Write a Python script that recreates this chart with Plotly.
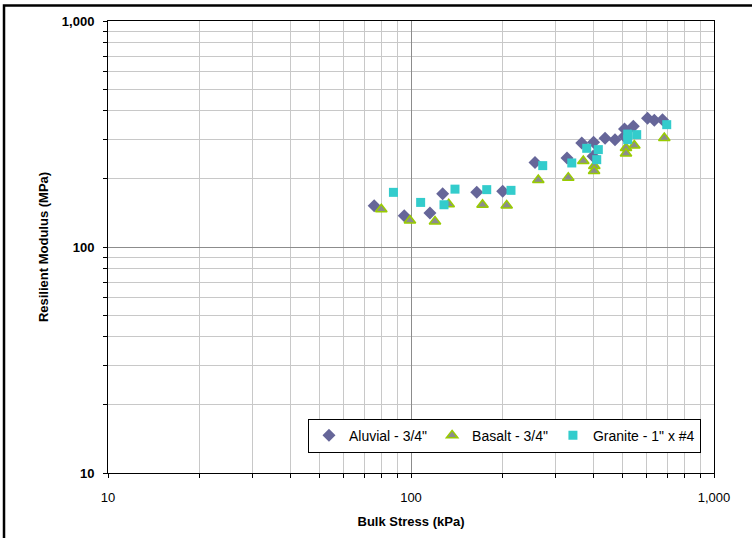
import plotly.graph_objects as go

# ---- data ----
aluvial_x = [75.6, 95.0, 115.5, 127.2, 164.8, 200.7, 256.6, 327.3, 366, 400.4, 398.9,
             436.9, 471.3, 506.5, 505.7, 541.6, 603.3, 635.3, 676.1]
aluvial_y = [152.3, 137.5, 141.4, 172.2, 174.5, 176.3, 236.8, 247.7, 288.6, 290.4, 252.3,
             303.1, 298.5, 332.4, 308.8, 342, 371.7, 364.2, 366]

basalt_x = [79.8, 99.2, 120.0, 133.2, 172.2, 206.9, 263.1, 330.4, 370.4, 402.7, 402.0,
            512.3, 512.3, 545.8, 685.5]
basalt_y = [147, 131.1, 129.8, 154.6, 153.8, 152.8, 198, 202.7, 240.3, 228.4, 217,
            274.4, 259.4, 281.4, 303.8]

granite_x = [87.5, 107.6, 128.5, 139.7, 177.8, 213.8, 272.1, 339.3, 380.1, 415.2, 410.2,
             519, 519, 555.8, 698.2]
granite_y = [174.5, 157.5, 153.8, 180.3, 179.4, 178.1, 229.1, 235.4, 273.3, 269.7, 243.5,
             315.8, 298.5, 314.2, 347.8]

series_names = ['Aluvial - 3/4"', 'Basalt - 3/4"', 'Granite - 1" x #4']

major_ticks_x = [10, 100, 1000]
major_text_x = ["10", "100", "1,000"]
major_ticks_y = [10, 100, 1000]
major_text_y = ["<b>10</b>", "<b>100</b>", "<b>1,000</b>"]
minor_vals = [m * d for d in (10, 100) for m in range(2, 10)]

x_title = "Bulk Stress (kPa)"
y_title = "Resilient Modulus (MPa)"

FONT = "Liberation Sans, Arial, sans-serif"

fig = go.Figure()
fig.add_trace(go.Scatter(
    x=aluvial_x, y=aluvial_y, mode="markers", name=series_names[0],
    marker=dict(symbol="diamond", size=10, color="#666699", line=dict(width=0))))
fig.add_trace(go.Scatter(
    x=basalt_x, y=basalt_y, mode="markers", name=series_names[1],
    marker=dict(symbol="triangle-up", size=10, color="#8c8c8c",
                line=dict(width=1.5, color="#99CC00"))))
fig.add_trace(go.Scatter(
    x=granite_x, y=granite_y, mode="markers", name=series_names[2],
    marker=dict(symbol="square", size=9, color="#33CCCC", line=dict(width=0))))

axis_common = dict(
    type="log",
    showline=True, linecolor="black", linewidth=1, mirror=True,
    showgrid=True, gridcolor="#8c8c8c", gridwidth=1,
    ticks="outside", ticklen=4, tickcolor="black",
    zeroline=False,
    minor=dict(tickvals=minor_vals, showgrid=True, gridcolor="#c8c8c8",
               gridwidth=1, ticks="outside", ticklen=4, tickcolor="black"),
)

fig.update_xaxes(
    **axis_common,
    range=[1, 3],
    tickvals=major_ticks_x, ticktext=major_text_x,
    tickfont=dict(family=FONT, size=13, color="black"),
    ticklabelstandoff=8,
    title=dict(text="<b>" + x_title + "</b>", font=dict(family=FONT, size=13, color="black"),
               standoff=13),
)
fig.update_yaxes(
    **axis_common,
    range=[1, 3],
    tickvals=major_ticks_y, ticktext=major_text_y,
    tickfont=dict(family=FONT, size=13, color="black"),
    ticklabelstandoff=6,
    title=dict(text="<b>" + y_title + "</b>", font=dict(family=FONT, size=13, color="black"),
               standoff=10),
)

fig.update_layout(
    width=752, height=538,
    margin=dict(l=108, r=38, t=21, b=65),
    paper_bgcolor="white", plot_bgcolor="white",
    font=dict(family=FONT, size=13, color="black"),
    showlegend=True,
    legend=dict(
        orientation="h", x=0.9785, y=0.12, xanchor="right", yanchor="top",
        bgcolor="white", bordercolor="black", borderwidth=1,
        font=dict(family=FONT, size=14, color="black"),
        itemwidth=30, tracegroupgap=0,
    ),
    shapes=[dict(type="rect", xref="paper", yref="paper",
                 x0=-0.1716, x1=1.2, y0=-0.3, y1=1.0343,
                 line=dict(color="black", width=2.5), layer="above")],
)

fig.write_html("out.html")
